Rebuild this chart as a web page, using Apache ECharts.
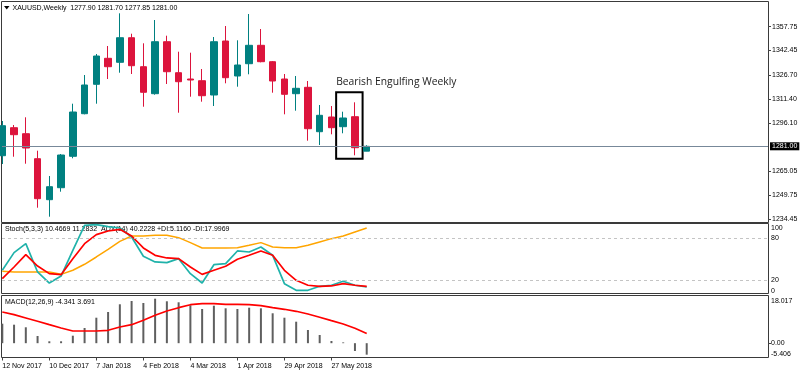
<!DOCTYPE html>
<html><head><meta charset="utf-8">
<script src="https://cdn.jsdelivr.net/npm/echarts@6/dist/echarts.min.js"></script>
<style>html,body{margin:0;padding:0;background:#fff}#c{width:800px;height:374px}</style>
</head><body><div id="c"></div>
<script>
const dates = ['12 Nov 2017','19 Nov 2017','26 Nov 2017','3 Dec 2017','10 Dec 2017','17 Dec 2017','24 Dec 2017','31 Dec 2017',
  '7 Jan 2018','14 Jan 2018','21 Jan 2018','28 Jan 2018','4 Feb 2018','11 Feb 2018','18 Feb 2018','25 Feb 2018',
  '4 Mar 2018','11 Mar 2018','18 Mar 2018','25 Mar 2018','1 Apr 2018','8 Apr 2018','15 Apr 2018','22 Apr 2018',
  '29 Apr 2018','6 May 2018','13 May 2018','20 May 2018','27 May 2018','3 Jun 2018','10 Jun 2018','17 Jun 2018'];
const opens  = [1274.97,1292.93,1289.08,1273.05,1246.76,1254.45,1274.59,1301.90,1320.75,1337.43,1334.86,1350.63,1332.04,1314.73,1348.07,1328.19,1324.15,1323.06,1313.89,1348.52,1326.08,1333.96,1345.76,1335.25,1324.15,1314.73,1318.83,1290.36,1299.79,1293.57,1299.98,1277.90];
const closes = [1294.21,1288.44,1279.91,1247.40,1255.10,1275.42,1302.99,1320.31,1338.90,1332.04,1350.63,1332.68,1315.63,1348.07,1328.83,1322.42,1323.51,1313.44,1348.07,1324.99,1333.13,1345.76,1335.25,1322.87,1314.34,1318.19,1292.28,1300.88,1292.93,1299.15,1280.10,1281.00];
const lows   = [1269.65,1274.33,1269.84,1241.63,1235.86,1251.89,1273.31,1301.50,1308.32,1324.15,1328.19,1327.36,1306.39,1314.09,1320.95,1302.54,1312.80,1309.60,1306.84,1321.40,1319.22,1327.17,1334.86,1315.37,1301.52,1303.83,1284.59,1281.83,1288.69,1289.34,1275.23,1277.85];
const highs  = [1297.22,1294.66,1299.59,1278.18,1261.96,1276.06,1308.32,1326.72,1340.18,1345.31,1366.28,1353.20,1347.04,1361.98,1351.92,1341.66,1341.02,1330.56,1351.08,1358.14,1348.97,1365.83,1356.21,1335.69,1327.36,1326.08,1322.87,1307.48,1306.84,1303.19,1309.21,1281.70];

const stochMain   = [34.3,59.5,72.3,31.9,16.1,26.1,62.8,98.5,99.5,96.6,94.7,81.9,54.3,46.2,45.2,50.9,29.5,16.1,42.3,43.8,61.9,60.4,67.6,55.7,15.2,5.7,5.7,11.4,12.9,18.6,12.9,10.47];
const stochSignal = [22.3,39.0,56.6,40.4,29.5,28.0,50.9,72.3,85.2,90.4,92.8,83.3,66.2,55.7,51.9,50.9,39.0,28.5,34.3,40.0,50.0,55.7,61.9,55.7,34.3,20.0,12.9,11.4,11.9,15.2,12.9,11.28];
const adxLine     = [32.8,31.9,31.9,31.9,31.9,28.5,34.3,42.9,53.3,64.3,75.7,83.3,83.3,84.3,84.3,80.9,73.8,66.2,66.2,66.2,66.6,70.0,73.8,67.6,66.6,66.6,70.0,74.8,79.5,83.3,89.0,94.7];

const macdHist   = [7.37,6.99,6.01,2.72,0.72,0.72,2.83,5.74,9.63,11.79,14.70,15.94,15.19,16.81,15.83,15.45,14.32,12.92,14.17,13.18,12.92,13.41,13.18,11.30,9.63,8.12,4.99,3.10,0.83,0.30,-2.95,-4.341];
const macdSignal = [11.79,10.77,9.52,8.27,6.99,5.74,4.61,4.61,4.61,4.87,6.12,6.99,8.65,10.54,12.16,13.41,14.54,14.92,14.92,14.70,14.70,14.54,14.17,13.41,12.81,12.05,11.03,9.78,8.50,7.25,5.63,3.691];

const priceTicks = [1234.45,1249.75,1265.05,1296.10,1311.40,1326.70,1342.45,1357.75];
const stochTicks = [0,20,80,100];
const stochLevels = [20,80];
const macdTicks = [-5.406,0,18.017];
const dateTicks = [0,4,8,12,16,20,24,28];
const pattern = {from: 28.4, to: 30.65, high: 1315.6, low: 1273.0, text: 'Bearish Engulfing Weekly'};

const FONT = 'Liberation Sans, Arial, sans-serif';
const xMin = -0.3/11.755, xMax = xMin + 766/11.755;
const last = closes.length - 1;

const chart = echarts.init(document.getElementById('c'), null, {renderer:'canvas'});
function xAx(gi, show) {
  return {type:'value', gridIndex:gi, min:xMin, max:xMax, show:show, position:'bottom',
    axisLine:{show:false, onZero:false}, splitLine:{show:false},
    axisTick:{show:show, customValues:dateTicks, length:3, lineStyle:{color:'#444'}},
    axisLabel:{show:show, customValues:dateTicks, formatter:v=>dates[Math.round(v)], align:'left', margin:5,
      fontSize:7, fontFamily:FONT, color:'#000'}};
}
const grids = [
  {left:2, top:1.5, width:766, height:221},
  {left:2, top:224.3, width:766, height:70},
  {left:2, top:295.5, width:766, height:62}
].map(g=>Object.assign(g,{outerBoundsMode:'none', containLabel:false}));

chart.setOption({
  animation:false,
  backgroundColor:'#fff',
  grid: grids,
  xAxis:[xAx(0,false), xAx(1,false), xAx(2,true)],
  yAxis:[
    {type:'value', gridIndex:0, position:'right', min:1232.14, max:1373.85, axisLine:{show:false, onZero:false}, splitLine:{show:false},
     axisTick:{show:true, customValues:priceTicks, length:3, lineStyle:{color:'#444'}},
     axisLabel:{customValues:priceTicks, formatter:v=>v.toFixed(2), margin:4, fontSize:7, fontFamily:FONT, color:'#000'}},
    {type:'value', gridIndex:1, position:'right', min:0, max:100, axisLine:{show:false, onZero:false}, splitLine:{show:false},
     axisTick:{show:false},
     axisLabel:{customValues:stochTicks, formatter:v=>String(v), margin:3, fontSize:7, fontFamily:FONT, color:'#000',
       verticalAlignMinLabel:'bottom', verticalAlignMaxLabel:'top'}},
    {type:'value', gridIndex:2, position:'right', min:-5.406, max:18.017, axisLine:{show:false, onZero:false}, splitLine:{show:false},
     axisTick:{show:true, customValues:[0], length:3, lineStyle:{color:'#444'}},
     axisLabel:{customValues:macdTicks, formatter:v=>v===0?'0.00':v.toFixed(3), margin:3, fontSize:7, fontFamily:FONT, color:'#000',
       verticalAlignMinLabel:'bottom', verticalAlignMaxLabel:'top', padding:[2,0,0,0]}}
  ],
  graphic:[
    {type:'rect', shape:{x:1.5,y:1.5,width:767,height:221}, style:{fill:null, stroke:'#3a3a3a', lineWidth:1}, silent:true},
    {type:'rect', shape:{x:1.5,y:223.5,width:767,height:70}, style:{fill:null, stroke:'#3a3a3a', lineWidth:1}, silent:true},
    {type:'rect', shape:{x:1.5,y:295.5,width:767,height:62}, style:{fill:null, stroke:'#3a3a3a', lineWidth:1}, silent:true},
    {type:'polygon', shape:{points:[[4,6],[9.5,6],[6.75,9.5]]}, style:{fill:'#000'}, silent:true},
    {type:'text', x:12.5, y:7.7, style:{text:'XAUUSD,Weekly  '+[opens[last],highs[last],lows[last],closes[last]].map(v=>v.toFixed(2)).join(' '),
      font:'7px '+FONT, fill:'#000', verticalAlign:'middle'}, silent:true, z:10},
    {type:'text', x:5, y:229.3, style:{text:'Stoch(5,3,3) 10.4669 11.2832  ADX(14) 40.2228 +DI:5.1160 -DI:17.9969',
      font:'7px '+FONT, fill:'#000', verticalAlign:'middle'}, silent:true, z:1},
    {type:'text', x:5, y:302, style:{text:'MACD(12,26,9) -4.341 3.691',
      font:'7px '+FONT, fill:'#000', verticalAlign:'middle'}, silent:true, z:1}
  ],
  series:[
    {type:'candlestick', xAxisIndex:0, yAxisIndex:0, barWidth:7,
     encode:{x:0, y:[1,2,3,4]},
     data: dates.map((d,i)=>[i, opens[i], closes[i], lows[i], highs[i]]),
     itemStyle:{color:'#008080', color0:'#DC143C', borderColor:'#008080', borderColor0:'#DC143C', borderWidth:1},
     markLine:{silent:true, symbol:'none', animation:false,
       data:[{yAxis:closes[last]}],
       lineStyle:{color:'#778899', width:1, type:'solid'},
       label:{show:true, position:'end', distance:2, formatter:closes[last].toFixed(2), backgroundColor:'#000', color:'#fff',
         fontSize:7, fontFamily:FONT, padding:[1,2,0,2]}},
     markArea:{silent:true,
       data:[[{coord:[pattern.from, pattern.high]},{coord:[pattern.to, pattern.low]}]],
       itemStyle:{color:'rgba(0,0,0,0)', borderColor:'#000', borderWidth:2},
       label:{show:true, position:[1,-9.5], align:'left', verticalAlign:'middle', formatter:pattern.text,
         fontSize:10.3, fontFamily:'Open Sans, sans-serif', color:'#222'}}
    },
    {type:'line', xAxisIndex:1, yAxisIndex:1, data:dates.map((d,i)=>[i, adxLine[i]]), symbol:'none',
     lineStyle:{color:'#FFA500', width:1.5}, itemStyle:{color:'#FFA500'},
     markLine:{silent:true, symbol:'none', data:stochLevels.map(v=>({yAxis:v})),
       lineStyle:{color:'#c4c4c4', width:1, type:[3,3]}, label:{show:false}}},
    {type:'line', xAxisIndex:1, yAxisIndex:1, data:dates.map((d,i)=>[i, stochMain[i]]), symbol:'none',
     lineStyle:{color:'#20B2AA', width:1.7}, itemStyle:{color:'#20B2AA'}},
    {type:'line', xAxisIndex:1, yAxisIndex:1, data:dates.map((d,i)=>[i, stochSignal[i]]), symbol:'none',
     lineStyle:{color:'#FF0000', width:1.7}, itemStyle:{color:'#FF0000'}},
    {type:'bar', xAxisIndex:2, yAxisIndex:2, data:dates.map((d,i)=>[i, macdHist[i]]), barWidth:2,
     itemStyle:{color:'#5f5f5f'}},
    {type:'line', xAxisIndex:2, yAxisIndex:2, data:dates.map((d,i)=>[i, macdSignal[i]]), symbol:'none',
     lineStyle:{color:'#FF0000', width:1.7}, itemStyle:{color:'#FF0000'}}
  ]
});
</script></body></html>
